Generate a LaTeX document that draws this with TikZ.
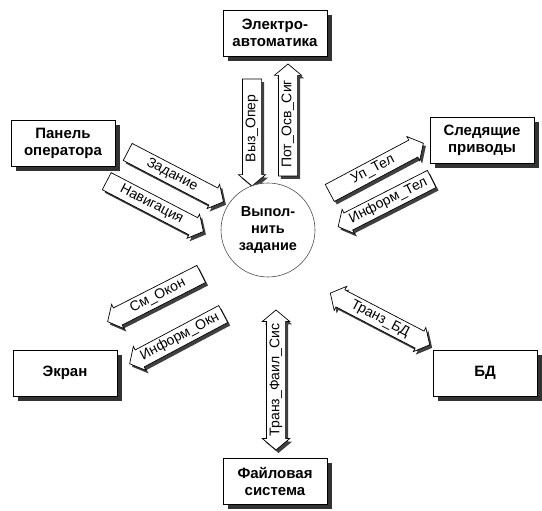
\documentclass[tikz,border=0pt]{standalone}
\usepackage{fontspec}
\setmainfont{Liberation Sans}
\usepackage{tikz}
\usetikzlibrary{shapes.arrows,shadows}

\tikzset{
	blok/.style={draw,line width=0.8pt,fill=white,minimum width=104,minimum height=46,align=center,
		font=\fontsize{15}{17}\selectfont\bfseries,
		drop shadow={shadow xshift=5pt,shadow yshift=-5pt,fill=black!80,opacity=1}},
	potok/.style={single arrow,draw,line width=0.7pt,fill=white,inner xsep=2pt,inner ysep=2.5pt,
		single arrow head extend=4pt,single arrow tip angle=100,text height=10pt,text depth=3.5pt,
		font=\fontsize{14}{16}\selectfont,
		drop shadow={shadow xshift=2.5pt,shadow yshift=-3pt,fill=black!75,opacity=1}},
	dvapotok/.style={potok,double arrow,double arrow head extend=4pt,double arrow tip angle=100},
	zadacha/.style={circle,draw=black!70,line width=0.6pt,fill=white,minimum size=94,align=center,
		font=\fontsize{14.5}{17}\selectfont\bfseries}
}

\begin{document}
\begin{tikzpicture}[x=1pt,y=1pt]
			\useasboundingbox (0,0) rectangle (542,511);
			
			% vneshnie obekty
			\foreach \nm/\x/\y/\txt in {elektro/275/478/{Электро-\\автоматика},
				panel/63/368/{Панель\\оператора},
				sled/482/371/{Следящие\\приводы},
				ekran/65/138/{Экран},
				bd/485/138/{БД},
				fajl/275/30/{Файловая\\система}}{
				\node[blok] (\nm) at (\x,\y) {\txt};
			}
			
			% potoki
			\foreach \nm/\x/\y/\ug/\dl/\nap/\txt in {vyz/252/382.5/90/107/180/{Выз\_Опер},
				pot/288/387/90/112/0/{Пот\_Осв\_Сиг},
				zad/172/336/-27.5/108/0/{Задание},
				nav/151.5/306.5/-27.5/109/0/{Навигация},
				uptel/373/341/28/106/0/{Уп\_Тел},
				inftel/388.5/310/27/105/180/{Информ\_Тел},
				smokon/158/215/27/105/180/{См\_Окон},
				infokn/180/174/28/106/180/{Информ\_Окн}}{
				\node[potok,rotate=\ug,shape border rotate=\nap,minimum height=\dl] (\nm) at (\x,\y) {\txt};
			}
			\node[dvapotok,rotate=-27.5,minimum height=112] (tranzbd) at (380,192) {Транз\_БД};
			\node[dvapotok,rotate=90,minimum height=140] (tranzfs) at (276,131) {Транз\_Фаил\_Сис};
			
			\node[zadacha] (vyp) at (268,281) {Выпол-\\нить\\задание};
		\end{tikzpicture}
\end{document}
